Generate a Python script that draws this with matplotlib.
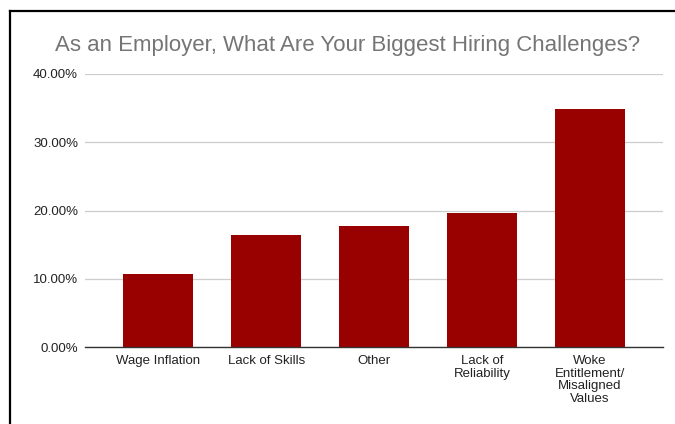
import matplotlib.pyplot as plt
from matplotlib.lines import Line2D
from matplotlib.ticker import FuncFormatter

categories = ["Wage Inflation", "Lack of Skills", "Other", "Lack of\nReliability",
              "Woke\nEntitlement/\nMisaligned\nValues"]
shares = [0.107, 0.164, 0.178, 0.196, 0.349]
y_ticks = [0.0, 0.1, 0.2, 0.3, 0.4]

plt.rcParams["font.family"] = ["Liberation Sans", "DejaVu Sans"]

fig = plt.figure(figsize=(6.75, 4.24), dpi=100)
ax = fig.add_axes([85 / 675, 1 - 347 / 424, (663 - 85) / 675, (347 - 74) / 424])

x = list(range(len(categories)))
ax.bar(x, shares, width=0.65, color="#990000", zorder=3)

ax.set_ylim(0, 0.40)
ax.set_xlim(-0.68, len(categories) - 0.32)
ax.set_yticks(y_ticks)
ax.yaxis.set_major_formatter(FuncFormatter(lambda v, _: f"{v * 100:.2f}%"))
ax.set_xticks(x)
ax.set_xticklabels(categories, linespacing=1.1)
ax.tick_params(axis="both", length=0, labelsize=9.5, colors="#222222")
ax.tick_params(axis="y", pad=5)
ax.tick_params(axis="x", pad=5.5)
ax.grid(axis="y", color="#cccccc", linewidth=0.9, zorder=0)

for side in ["top", "right", "left"]:
    ax.spines[side].set_visible(False)
ax.spines["bottom"].set_color("#333333")
ax.spines["bottom"].set_linewidth(1.0)
ax.spines["bottom"].set_zorder(4)

fig.text(348 / 675, 1 - 45 / 424, "As an Employer, What Are Your Biggest Hiring Challenges?",
         ha="center", va="center", fontsize=16, color="#757575")

# black frame around the screenshot (left and top edges)
fig.add_artist(Line2D([10 / 675, 10 / 675], [0, 1 - 11 / 424], color="black", linewidth=1.6,
                      transform=fig.transFigure))
fig.add_artist(Line2D([10 / 675, 1], [1 - 11 / 424, 1 - 11 / 424], color="black", linewidth=1.6,
                      transform=fig.transFigure))

fig.savefig("out.png", dpi=100)
